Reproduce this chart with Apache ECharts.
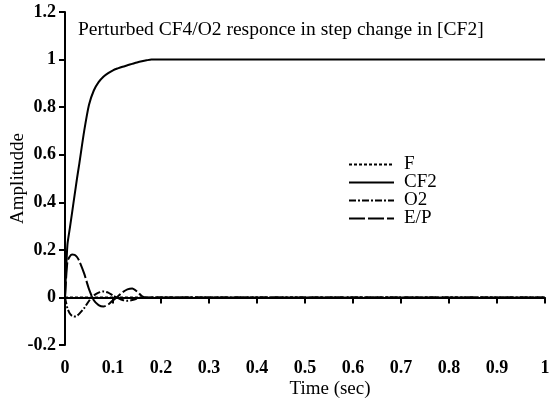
<!DOCTYPE html>
<html>
<head>
<meta charset="utf-8">
<script src="https://cdn.jsdelivr.net/npm/echarts@6/dist/echarts.min.js"></script>
<style>
  html, body { margin: 0; padding: 0; background: #fff; }
  #chart { width: 550px; height: 399px; }
</style>
</head>
<body>
<div id="chart"></div>
<script>
// time points (sec)
var timeData = [0, 0.005, 0.01, 0.015, 0.02, 0.025, 0.03, 0.04, 0.05, 0.06, 0.07, 0.08, 0.09,
    0.1, 0.11, 0.12, 0.13, 0.14, 0.15, 0.16, 0.17, 0.18, 0.2, 0.3, 0.4, 0.5, 0.6, 0.7, 0.8, 0.9, 1];

var fData   = [0, 0, 0, 0, 0, 0, 0, 0, 0, 0, 0, 0, 0,
    0, 0, 0, 0, 0, 0, 0, 0, 0, 0, 0, 0, 0, 0, 0, 0, 0, 0];
var cf2Data = [0, 0.22, 0.29, 0.36, 0.43, 0.5, 0.565, 0.7, 0.81, 0.87, 0.905, 0.928, 0.943,
    0.955, 0.963, 0.97, 0.976, 0.982, 0.988, 0.993, 0.997, 1, 1, 1, 1, 1, 1, 1, 1, 1, 1];
var o2Data  = [0, -0.045, -0.068, -0.078, -0.08, -0.077, -0.068, -0.045, -0.015, 0.008, 0.02, 0.025, 0.02,
    0.008, -0.002, -0.011, -0.014, -0.011, -0.005, 0, 0, 0, 0, 0, 0, 0, 0, 0, 0, 0, 0];
var epData  = [0, 0.15, 0.172, 0.18, 0.179, 0.17, 0.152, 0.1, 0.035, -0.012, -0.032, -0.038, -0.03,
    -0.012, 0.004, 0.022, 0.034, 0.038, 0.025, 0.006, -0.002, 0, 0, 0, 0, 0, 0, 0, 0, 0, 0];

var xTicks = [0, 0.1, 0.2, 0.3, 0.4, 0.5, 0.6, 0.7, 0.8, 0.9, 1];

function pairs(ys) {
    var out = [];
    for (var i = 0; i < timeData.length; i++) {
        out.push([timeData[i], ys[i]]);
    }
    return out;
}

var font = '"Liberation Serif", "DejaVu Serif", serif';

var chart = echarts.init(document.getElementById('chart'));

function lineSeries(name, ys, type, z) {
    return {
        name: name,
        type: 'line',
        data: pairs(ys),
        symbol: 'none',
        smooth: 0.25,
        z: z,
        itemStyle: { color: '#000' },
        lineStyle: { color: '#000', width: 2, type: type }
    };
}

var option = {
    animation: false,
    backgroundColor: '#fff',
    textStyle: { fontFamily: font, color: '#000' },
    title: {
        text: 'Perturbed CF4/O2 responce in step change in [CF2]',
        left: 78,
        top: 20,
        padding: 0,
        textStyle: { fontFamily: font, fontSize: 19.5, fontWeight: 'normal', color: '#000' }
    },
    legend: {
        orient: 'vertical',
        left: 348,
        top: 155,
        padding: 0,
        itemWidth: 45,
        itemHeight: 14,
        itemGap: -1,
        data: ['F', 'CF2', 'O2', 'E/P'],
        itemStyle: { opacity: 0 },
        textStyle: { fontFamily: font, fontSize: 19, color: '#000', padding: [0, 0, 0, 5] }
    },
    grid: { left: 65, right: 5, top: 12, bottom: 54, outerBoundsMode: 'none' },
    xAxis: {
        type: 'value',
        min: 0,
        max: 1,
        interval: 0.1,
        name: 'Time (sec)',
        nameLocation: 'middle',
        nameGap: 35,
        nameMoveOverlap: false,
        nameTextStyle: { fontFamily: font, fontSize: 19, color: '#000', padding: [0, 0, 0, 50] },
        axisLine: { show: true, lineStyle: { color: '#000', width: 2 } },
        axisTick: { show: true, inside: false, length: 6, lineStyle: { color: '#000', width: 2 } },
        axisLabel: {
            margin: 14,
            fontFamily: font, fontSize: 18, fontWeight: 'bold', color: '#000',
            formatter: function (v) {
                var t = xTicks.find(function (x) { return Math.abs(x - v) < 1e-9; });
                return t === undefined ? '' : String(t);
            }
        },
        splitLine: { show: false }
    },
    yAxis: {
        type: 'value',
        min: -0.2,
        max: 1.2,
        interval: 0.2,
        name: 'Amplitudde',
        nameLocation: 'middle',
        nameGap: 37,
        nameMoveOverlap: false,
        nameTextStyle: { fontFamily: font, fontSize: 19, color: '#000' },
        axisLine: { show: true, lineStyle: { color: '#000', width: 2 } },
        axisTick: { show: true, inside: false, length: 6, lineStyle: { color: '#000', width: 2 } },
        axisLabel: {
            margin: 9,
            fontFamily: font, fontSize: 18, fontWeight: 'bold', color: '#000',
            formatter: function (v) { return String(Math.round(v * 10) / 10); }
        },
        splitLine: { show: false }
    },
    series: [
        lineSeries('F', fData, [3, 2], 4),
        lineSeries('CF2', cf2Data, 'solid', 3),
        lineSeries('O2', o2Data, [7, 2, 2, 2], 2),
        lineSeries('E/P', epData, [16, 3], 1)
    ]
};

chart.setOption(option);
</script>
</body>
</html>
